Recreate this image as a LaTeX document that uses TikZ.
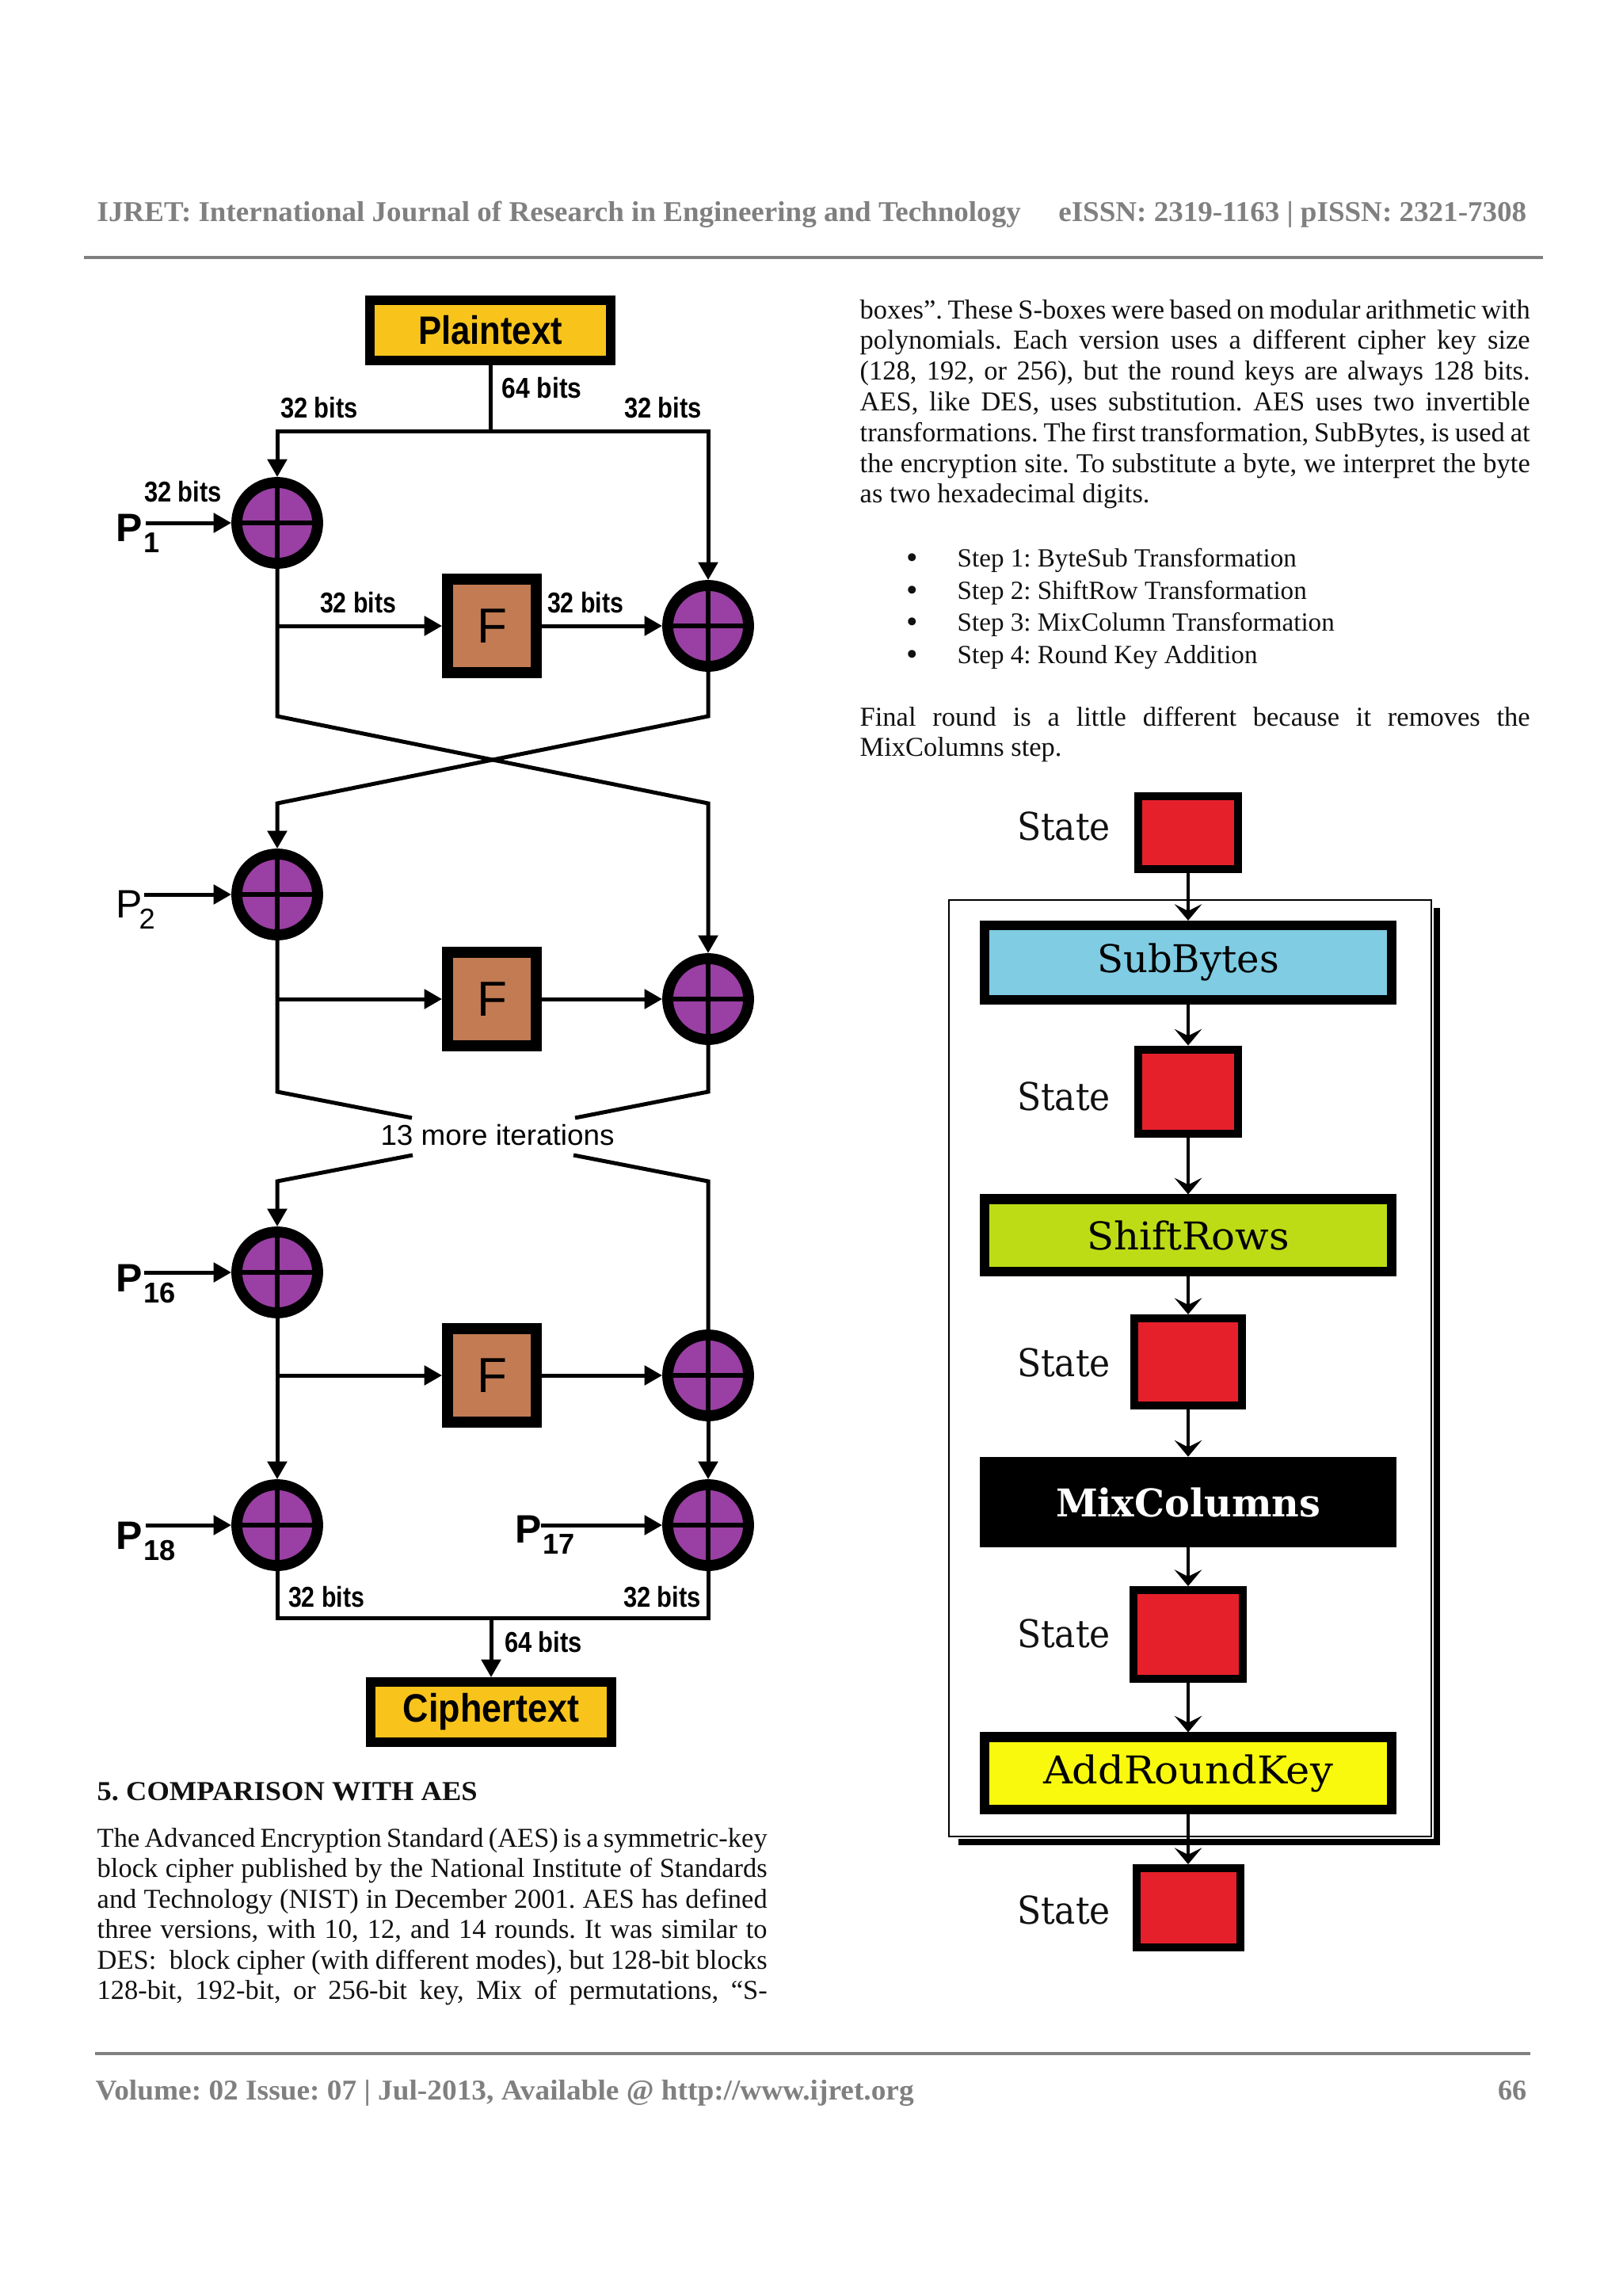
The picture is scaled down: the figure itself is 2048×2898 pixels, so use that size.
\documentclass[tikz,border=0pt]{standalone}
\usepackage{fontspec}
\usepackage{graphicx}
\setmainfont{Liberation Serif}
\newfontfamily\dsans{Liberation Sans}
\newfontfamily\aesfont{DejaVu Serif}
\usetikzlibrary{arrows.meta}
\frenchspacing
\newdimen\pxu \pxu=0.29pt
\newcommand\fitw[2]{\resizebox{#1\pxu}{\height}{#2}}
\newcommand\jl[1]{\makebox[846\pxu][s]{#1}}
\definecolor{xorpurple}{HTML}{9A3FA3}
\definecolor{fbrown}{HTML}{C27B52}
\definecolor{ptyellow}{HTML}{F8C41B}
\definecolor{stred}{HTML}{E5202A}
\definecolor{sbblue}{HTML}{7FCCE3}
\definecolor{srgreen}{HTML}{BDDC16}
\definecolor{arkyellow}{HTML}{F9F90E}
\definecolor{hdrgray}{HTML}{808080}
\definecolor{txt}{HTML}{111111}
\tikzset{
  ln/.style={line width=1.45pt},
  arr/.style={line width=1.45pt, -{Triangle[length=6.5pt,width=7pt]}},
  xor/.style={circle, draw, line width=4pt, fill=xorpurple, minimum size=29.6pt, inner sep=0pt,
    path picture={\draw[line width=1.6pt] (path picture bounding box.north) -- (path picture bounding box.south)
      (path picture bounding box.west) -- (path picture bounding box.east);}},
  fnbox/.style={draw, line width=4pt, fill=fbrown, minimum width=32.5pt, minimum height=34.2pt, inner sep=0pt,
    font=\dsans\fontsize{18}{18}\selectfont},
  ptbox/.style={draw, line width=3.5pt, fill=ptyellow, minimum width=88.2pt, minimum height=22pt, inner sep=0pt,
    font=\dsans\bfseries\fontsize{14.5}{14.5}\selectfont},
  bitlab/.style={inner sep=0pt, font=\dsans\bfseries\fontsize{10.5}{10.5}\selectfont},
  plab/.style={inner sep=0pt, anchor=base west, font=\dsans\bfseries\fontsize{14.5}{14.5}\selectfont},
  psub/.style={inner sep=0pt, anchor=base west, font=\dsans\bfseries\fontsize{10.5}{10.5}\selectfont},
  stbox/.style={draw=black, line width=2.9pt, fill=stred, inner sep=0pt},
  stlab/.style={inner sep=0pt, text=txt, font=\aesfont\fontsize{14}{14}\selectfont},
  aesbox/.style={draw=black, line width=3.5pt, inner sep=0pt, minimum width=148.8pt, minimum height=27.3pt,
    font=\aesfont\fontsize{14}{14}\selectfont},
  aarr/.style={line width=1.4pt, -{Stealth[length=6pt,width=10pt,inset=2.5pt]}},
  body/.style={inner sep=0pt, anchor=base west, text=txt, font=\fontsize{10}{11.25}\selectfont},
  bull/.style={inner sep=0pt, anchor=base west, text=txt, font=\fontsize{9.6}{11.25}\selectfont},
  bdot/.style={inner sep=0pt, anchor=base, text=txt, font=\fontsize{12}{12}\selectfont},
  hdr/.style={inner sep=0pt, text=hdrgray, font=\bfseries\fontsize{10.5}{12}\selectfont},
}
\begin{document}
\begin{tikzpicture}[x=0.29pt,y=-0.29pt]
\fill[white] (0,0) rectangle (2048,2898);
\useasboundingbox (0,0) rectangle (2048,2898);

% ---------- header / footer ----------
\node[hdr, anchor=base west] (hdrL) at (122,279) {\fitw{1166}{IJRET: International Journal of Research in Engineering and Technology}};
\node[hdr, anchor=base east] (hdrR) at (1928,279) {\fitw{591}{eISSN: 2319-1163 | pISSN: 2321-7308}};
\draw[hdrgray, line width=0.9pt] (106,325) -- (1948,325);
\draw[hdrgray, line width=1pt] (120,2592) -- (1932,2592);
\node[hdr, anchor=base west] (ftL) at (120,2650) {\fitw{1033}{Volume: 02 Issue: 07 | Jul-2013, Available @ http://www.ijret.org}};
\node[hdr, anchor=base east] (ftR) at (1928,2650) {66};

% ---------- Feistel diagram ----------
\node[ptbox] (pt) at (619,417) {\fitw{182}{Plaintext}};
\coordinate (t0) at (619,544);
\coordinate (tL) at (350,544);
\coordinate (tR) at (894,544);
\node[xor] (L1) at (350,660) {};
\node[xor] (R1) at (894,790) {};
\node[fnbox] (F1) at (621,790) {F};
\node[xor] (L2) at (350,1129) {};
\node[xor] (R2) at (894,1261) {};
\node[fnbox] (F2) at (621,1261) {F};
\node[xor] (L3) at (350,1606) {};
\node[xor] (R3) at (894,1736) {};
\node[fnbox] (F3) at (621,1736) {F};
\node[xor] (L4) at (350,1925) {};
\node[xor] (R4) at (894,1925) {};
\node[ptbox] (ct) at (620,2161) {\fitw{222}{Ciphertext}};

\draw[ln] (pt.south) -- (t0);
\draw[arr] (t0) -- (tL) -- (L1.north);
\draw[arr] (t0) -- (tR) -- (R1.north);
\coordinate (h1) at (350,790);
\draw[arr] (h1) -- (F1.west);
\draw[arr] (F1.east) -- (R1.west);
\coordinate (c1L) at (350,904);
\coordinate (c1R) at (894,904);
\coordinate (c2L) at (350,1014);
\coordinate (c2R) at (894,1014);
\draw[arr] (L1.south) -- (c1L) -- (c2R) -- (R2.north);
\draw[arr] (R1.south) -- (c1R) -- (c2L) -- (L2.north);

\coordinate (h2) at (350,1261);
\draw[arr] (h2) -- (F2.west);
\draw[arr] (F2.east) -- (R2.west);
\coordinate (d1L) at (350,1378);
\coordinate (d1R) at (894,1378);
\coordinate (g1L) at (520,1411);
\coordinate (g1R) at (726,1411);
\coordinate (g2L) at (521,1458);
\coordinate (g2R) at (724,1458);
\coordinate (d2L) at (350,1491);
\coordinate (d2R) at (894,1491);
\draw[ln] (L2.south) -- (d1L) -- (g1L);
\draw[ln] (R2.south) -- (d1R) -- (g1R);
\node[inner sep=0pt, font=\dsans\fontsize{10.5}{10.5}\selectfont] (iter) at (628,1433) {\fitw{295}{13 more iterations}};
\draw[arr] (g2L) -- (d2L) -- (L3.north);
\draw[ln] (g2R) -- (d2R) -- (R3.north);

\coordinate (h3) at (350,1736);
\draw[arr] (h3) -- (F3.west);
\draw[arr] (F3.east) -- (R3.west);
\draw[arr] (L3.south) -- (L4.north);
\draw[arr] (R3.south) -- (R4.north);
\coordinate (e1L) at (350,2042);
\coordinate (e1R) at (894,2042);
\coordinate (e0) at (620,2042);
\draw[ln] (L4.south) -- (e1L) -- (e1R) -- (R4.south);
\draw[arr] (e0) -- (ct.north);

% P inputs
\coordinate (P1s) at (184,660);
\coordinate (P2s) at (182,1129);
\coordinate (P16s) at (182,1606);
\coordinate (P18s) at (184,1925);
\coordinate (P17s) at (683,1925);
\draw[arr] (P1s) -- (L1.west);
\draw[arr] (P2s) -- (L2.west);
\draw[arr] (P16s) -- (L3.west);
\draw[arr] (P18s) -- (L4.west);
\draw[arr] (P17s) -- (R4.west);
\node[plab] (P1) at (146,683) {P};
\node[psub] (P1n) at (181,697) {1};
\node[plab, font=\dsans\fontsize{14.5}{14.5}\selectfont] (P2) at (146,1158) {P};
\node[psub, font=\dsans\fontsize{10.5}{10.5}\selectfont] (P2n) at (175,1172) {2};
\node[plab] (P16) at (146,1630) {P};
\node[psub] (P16n) at (181,1644) {16};
\node[plab] (P18) at (146,1955) {P};
\node[psub] (P18n) at (181,1969) {18};
\node[plab] (P17) at (650,1947) {P};
\node[psub] (P17n) at (685,1961) {17};

% bit labels
\node[bitlab] (b1) at (403,515) {\fitw{98}{32 bits}};
\node[bitlab] (b2) at (684,490) {\fitw{101}{64 bits}};
\node[bitlab] (b3) at (837,515) {\fitw{98}{32 bits}};
\node[bitlab] (b4) at (231,621) {\fitw{98}{32 bits}};
\node[bitlab] (b5) at (452,761) {\fitw{96}{32 bits}};
\node[bitlab] (b6) at (739,761) {\fitw{96}{32 bits}};
\node[bitlab] (b7) at (412,2016) {\fitw{96}{32 bits}};
\node[bitlab] (b8) at (836,2016) {\fitw{98}{32 bits}};
\node[bitlab] (b9) at (686,2073) {\fitw{98}{64 bits}};

% ---------- AES diagram ----------
\draw[line width=0.8pt] (1198,1136) rectangle (1807,2318);
\draw[line width=2.3pt] (1814,1146) -- (1814,2325) -- (1210,2325);
\node[stbox, minimum width=36.8pt, minimum height=26.7pt] (S1) at (1500,1051) {};
\node[aesbox, fill=sbblue] (SB) at (1500,1215) {\fitw{230}{SubBytes}};
\node[stbox, minimum width=36.8pt, minimum height=31pt] (S2) at (1500,1378) {};
\node[aesbox, fill=srgreen, minimum height=26.4pt] (SR) at (1500,1559) {\fitw{256}{ShiftRows}};
\node[stbox, minimum width=39.7pt, minimum height=31.9pt] (S3) at (1500,1719) {};
\node[aesbox, fill=black, text=white, minimum height=29.8pt] (MC) at (1500,1896) {\bfseries\fitw{334}{MixColumns}};
\node[stbox, minimum width=40pt, minimum height=32.5pt] (S4) at (1500,2063) {};
\node[aesbox, fill=arkyellow, minimum height=26.4pt] (ARK) at (1500,2238) {\fitw{366}{AddRoundKey}};
\node[stbox, minimum width=38pt, minimum height=29pt] (S5) at (1500,2408) {};
\draw[aarr] (S1.south) -- (SB.north);
\draw[aarr] (SB.south) -- (S2.north);
\draw[aarr] (S2.south) -- (SR.north);
\draw[aarr] (SR.south) -- (S3.north);
\draw[aarr] (S3.south) -- (MC.north);
\draw[aarr] (MC.south) -- (S4.north);
\draw[aarr] (S4.south) -- (ARK.north);
\draw[aarr] (ARK.south) -- (S5.north);
\node[stlab] (lS1) at (1343,1043) {\fitw{118}{State}};
\node[stlab] (lS2) at (1343,1384) {\fitw{118}{State}};
\node[stlab] (lS3) at (1343,1720) {\fitw{118}{State}};
\node[stlab] (lS4) at (1343,2062) {\fitw{118}{State}};
\node[stlab] (lS5) at (1343,2411) {\fitw{118}{State}};

% ---------- right column text ----------
\node[body] (r1) at (1085,402) {\jl{boxes”. These S-boxes were based on modular arithmetic with}};
\node[body] (r2) at (1085,440.8) {\jl{polynomials. Each version uses a different cipher key size}};
\node[body] (r3) at (1085,479.6) {\jl{(128, 192, or 256), but the round keys are always 128 bits.}};
\node[body] (r4) at (1085,518.4) {\jl{AES, like DES, uses substitution. AES uses two invertible}};
\node[body] (r5) at (1085,557.2) {\jl{transformations. The first transformation, SubBytes, is used at}};
\node[body] (r6) at (1085,596) {\jl{the encryption site. To substitute a byte, we interpret the byte}};
\node[body] (r7) at (1085,634.8) {as two hexadecimal digits.};
\node[bdot] (bl1) at (1152,717) {•};
\node[bdot] (bl2) at (1152,758) {•};
\node[bdot] (bl3) at (1152,798) {•};
\node[bdot] (bl4) at (1152,839) {•};
\node[bull] (s1) at (1208,715) {Step 1: ByteSub Transformation};
\node[bull] (s2) at (1208,756) {Step 2: ShiftRow Transformation};
\node[bull] (s3) at (1208,796) {Step 3: MixColumn Transformation};
\node[bull] (s4) at (1208,837) {Step 4: Round Key Addition};
\node[body] (f1) at (1085,916) {\jl{Final round is a little different because it removes the}};
\node[body] (f2) at (1085,954.5) {MixColumns step.};

% ---------- left column text ----------
\node[body, font=\bfseries\fontsize{10}{11.25}\selectfont] (h5) at (122,2272) {\fitw{480}{5. COMPARISON WITH AES}};
\node[body] (l1) at (122,2331) {\jl{The Advanced Encryption Standard (AES) is a symmetric-key}};
\node[body] (l2) at (122,2369.5) {\jl{block cipher published by the National Institute of Standards}};
\node[body] (l3) at (122,2408) {\jl{and Technology (NIST) in December 2001. AES has defined}};
\node[body] (l4) at (122,2446.5) {\jl{three versions, with 10, 12, and 14 rounds. It was similar to}};
\node[body] (l5) at (122,2485) {\jl{DES:\ \ block cipher (with different modes), but 128-bit blocks}};
\node[body] (l6) at (122,2523.5) {\jl{128-bit, 192-bit, or 256-bit key, Mix of permutations, “S-}};
\end{tikzpicture}
\end{document}
